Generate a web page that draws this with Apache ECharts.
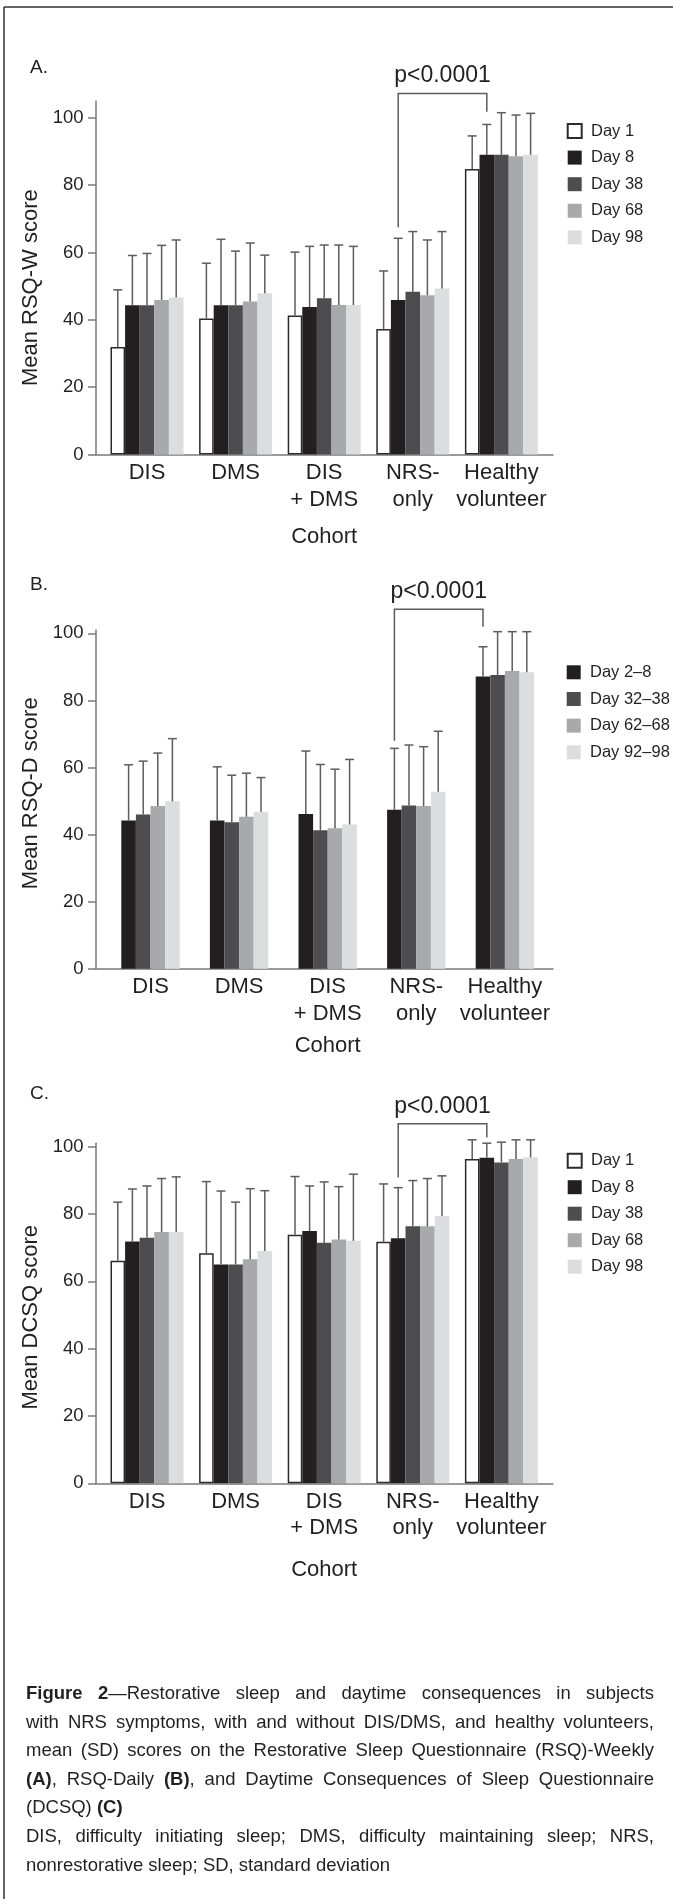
<!DOCTYPE html>
<html><head><meta charset="utf-8">
<script src="https://cdn.jsdelivr.net/npm/echarts@6/dist/echarts.min.js"></script>
<style>
html,body{margin:0;padding:0;background:#fff;overflow:hidden;}
#chart{position:absolute;left:0;top:0;width:673px;height:1899px;}
#caption{position:absolute;left:26px;top:1679px;width:628px;font-family:'Liberation Sans',Arial,Helvetica,sans-serif;font-size:18.5px;line-height:28.6px;color:#231f20;}
#caption .j{text-align:justify;text-align-last:justify;}
</style></head><body>
<div id="chart"></div>
<div id="caption">
<div class="j"><b>Figure 2</b>—Restorative sleep and daytime consequences in subjects</div>
<div class="j">with NRS symptoms, with and without DIS/DMS, and healthy volunteers,</div>
<div class="j">mean (SD) scores on the Restorative Sleep Questionnaire (RSQ)-Weekly</div>
<div class="j"><b>(A)</b>, RSQ-Daily <b>(B)</b>, and Daytime Consequences of Sleep Questionnaire</div>
<div>(DCSQ) <b>(C)</b></div>
<div class="j">DIS, difficulty initiating sleep; DMS, difficulty maintaining sleep; NRS,</div>
<div>nonrestorative sleep; SD, standard deviation</div>
</div>
<script>
// ---------- data ----------
const categories = ['DIS', 'DMS', 'DIS\n+ DMS', 'NRS-\nonly', 'Healthy\nvolunteer'];
const yTickValues = [0, 20, 40, 60, 80, 100];

// Panel A: RSQ-Weekly
const seriesNamesA = ['Day 1', 'Day 8', 'Day 38', 'Day 68', 'Day 98'];
const rsqwDay1Mean  = [31.9, 40.4, 41.3, 37.3, 84.8];
const rsqwDay8Mean  = [44.3, 44.3, 43.8, 45.9, 89.0];
const rsqwDay38Mean = [44.3, 44.3, 46.4, 48.3, 89.0];
const rsqwDay68Mean = [45.9, 45.4, 44.4, 47.3, 88.6];
const rsqwDay98Mean = [46.6, 47.9, 44.4, 49.3, 89.0];
const rsqwDay1SD  = [17.0, 16.4, 18.8, 17.2, 9.8];
const rsqwDay8SD  = [14.8, 19.6, 18.0, 18.3, 9.0];
const rsqwDay38SD = [15.4, 16.1, 15.8, 17.9, 12.5];
const rsqwDay68SD = [16.2, 17.4, 17.8, 16.4, 12.2];
const rsqwDay98SD = [17.1, 11.3, 17.4, 16.9, 12.3];

// Panel B: RSQ-Daily
const seriesNamesB = ['Day 2\u20138', 'Day 32\u201338', 'Day 62\u201368', 'Day 92\u201398'];
const rsqdDay2to8Mean   = [44.2, 44.2, 46.1, 47.4, 87.1];
const rsqdDay32to38Mean = [46.0, 43.7, 41.3, 48.7, 87.6];
const rsqdDay62to68Mean = [48.5, 45.3, 41.9, 48.5, 88.8];
const rsqdDay92to98Mean = [49.9, 46.8, 43.0, 52.8, 88.4];
const rsqdDay2to8SD   = [16.6, 16.0, 18.8, 18.3, 8.9];
const rsqdDay32to38SD = [15.9, 14.0, 19.6, 18.0, 12.9];
const rsqdDay62to68SD = [15.8, 13.0, 17.6, 17.7, 11.7];
const rsqdDay92to98SD = [18.7, 10.2, 19.4, 18.0, 12.1];

// Panel C: DCSQ
const seriesNamesC = ['Day 1', 'Day 8', 'Day 38', 'Day 68', 'Day 98'];
const dcsqDay1Mean  = [66.1, 68.3, 73.8, 71.7, 96.3];
const dcsqDay8Mean  = [71.8, 65.0, 74.9, 72.8, 96.7];
const dcsqDay38Mean = [72.9, 65.0, 71.4, 76.3, 95.3];
const dcsqDay68Mean = [74.6, 66.5, 72.4, 76.3, 96.3];
const dcsqDay98Mean = [74.6, 69.0, 72.0, 79.4, 96.8];
const dcsqDay1SD  = [17.4, 21.3, 17.3, 17.2, 5.7];
const dcsqDay8SD  = [15.6, 21.8, 13.4, 15.0, 4.3];
const dcsqDay38SD = [15.4, 18.5, 18.1, 13.6, 6.0];
const dcsqDay68SD = [15.9, 21.0, 15.7, 14.2, 5.7];
const dcsqDay98SD = [16.4, 17.9, 19.8, 11.9, 5.2];

// significance brackets: [left bottom, top, right bottom] (score units)
const pLabel = 'p<0.0001';
const bracketA = [67.5, 107.2, 101.8];
const bracketB = [68.0, 107.2, 102.0];
const bracketC = [90.8, 106.8, 102.7];

// ---------- styling ----------
const FONT = "'Liberation Sans', Arial, Helvetica, sans-serif";
const TXT = '#231f20';
const AX = '#7a7a7a';
const ERR = '#5c5c5c';
const BW = 14.6;
const fiveFills = ['#ffffff', '#231f20', '#4d4d4f', '#a7a9ab', '#dcdddf'];
const fourFills = ['#231f20', '#4d4d4f', '#a7a9ab', '#dcdddf'];

const panels = [
  { names: seriesNamesA, colors: fiveFills,
    means: [rsqwDay1Mean, rsqwDay8Mean, rsqwDay38Mean, rsqwDay68Mean, rsqwDay98Mean],
    sds: [rsqwDay1SD, rsqwDay8SD, rsqwDay38SD, rsqwDay68SD, rsqwDay98SD],
    yName: 'Mean RSQ-W score', yNamePad: [0, 20, 0, 0], yMax: 105, top: 100.9, height: 353.6, barsLeft: 102.7,
    cohortGap: 71, label: 'A.', labelY: 68.3, bracket: bracketA, bracketSeries: 1,
    legendTop: 122.5, legendGap: 9.6 },
  { names: seriesNamesB, colors: fourFills,
    means: [rsqdDay2to8Mean, rsqdDay32to38Mean, rsqdDay62to68Mean, rsqdDay92to98Mean],
    sds: [rsqdDay2to8SD, rsqdDay32to38SD, rsqdDay62to68SD, rsqdDay92to98SD],
    yName: 'Mean RSQ-D score', yNamePad: [0, 0, 0, 12], yMax: 101, top: 630, height: 338.7, barsLeft: 106.2,
    cohortGap: 66, label: 'B.', labelY: 585, bracket: bracketB, bracketSeries: 0,
    legendTop: 663.8, legendGap: 9.67 },
  { names: seriesNamesC, colors: fiveFills,
    means: [dcsqDay1Mean, dcsqDay8Mean, dcsqDay38Mean, dcsqDay68Mean, dcsqDay98Mean],
    sds: [dcsqDay1SD, dcsqDay8SD, dcsqDay38SD, dcsqDay68SD, dcsqDay98SD],
    yName: 'Mean DCSQ score', yNamePad: [0, 8, 0, 0], yMax: 101, top: 1143.2, height: 340.1, barsLeft: 102.7,
    cohortGap: 75.7, label: 'C.', labelY: 1094, bracket: bracketC, bracketSeries: 1,
    legendTop: 1152.2, legendGap: 9.5 }
];

function errRender(offset) {
  return function (params, api) {
    const base = api.coord([api.value(0), api.value(1)]);
    const top = api.coord([api.value(0), api.value(2)]);
    const x = base[0] + offset;
    return { type: 'group', children: [
      { type: 'line', shape: { x1: x, y1: base[1], x2: x, y2: top[1] }, style: { stroke: ERR, lineWidth: 1.5 } },
      { type: 'line', shape: { x1: x - 4.5, y1: top[1], x2: x + 4.5, y2: top[1] }, style: { stroke: ERR, lineWidth: 1.5 } }
    ] };
  };
}
function bracketRender(offset) {
  return function (params, api) {
    const l = api.coord([api.value(0), api.value(1)]);
    const t = api.coord([api.value(0), api.value(2)]);
    const r = api.coord([api.value(3), api.value(4)]);
    const x1 = l[0] + offset, x2 = r[0] + offset;
    return { type: 'group', children: [
      { type: 'polyline', shape: { points: [[x1, l[1]], [x1, t[1]], [x2, t[1]], [x2, r[1]]] },
        style: { stroke: ERR, lineWidth: 1.5, fill: null } },
      { type: 'text', style: { text: pLabel, x: (x1 + x2) / 2, y: t[1] - 17.5, align: 'center',
        verticalAlign: 'middle', fontSize: 23, fontFamily: FONT, fill: TXT } }
    ] };
  };
}

const option = { animation: false, grid: [], xAxis: [], yAxis: [], series: [], legend: [], graphic: [] };

option.graphic.push({ type: 'line', shape: { x1: 4, y1: 7, x2: 673, y2: 7 }, style: { stroke: '#333', lineWidth: 1.5 } });
option.graphic.push({ type: 'line', shape: { x1: 4, y1: 7, x2: 4, y2: 1899 }, style: { stroke: '#333', lineWidth: 1.5 } });

panels.forEach(function (p) {
  const g = option.grid.length;
  option.grid.push({ left: 96, width: 457, top: p.top, height: p.height });
  option.grid.push({ left: p.barsLeft, width: 443, top: p.top, height: p.height });
  option.xAxis.push({ gridIndex: g, type: 'value', min: 0, max: 1,
    axisLine: { show: true, lineStyle: { color: AX, width: 1.5 } },
    axisTick: { show: false }, axisLabel: { show: false }, splitLine: { show: false } });
  option.xAxis.push({ gridIndex: g + 1, type: 'category', data: categories,
    axisLine: { show: false }, axisTick: { show: false },
    axisLabel: { interval: 0, fontSize: 22, lineHeight: 26.5, margin: 5.25, color: TXT, fontFamily: FONT },
    name: 'Cohort', nameLocation: 'middle', nameGap: p.cohortGap,
    nameTextStyle: { fontSize: 22, color: TXT, fontFamily: FONT } });
  option.yAxis.push({ gridIndex: g, type: 'value', min: 0, max: p.yMax,
    axisLine: { show: true, lineStyle: { color: AX, width: 1.5 } },
    axisTick: { show: true, length: 8, customValues: yTickValues, lineStyle: { color: AX, width: 1.5 } },
    axisLabel: { customValues: yTickValues, fontSize: 18.5, margin: 12.5, color: TXT, fontFamily: FONT },
    splitLine: { show: false },
    name: p.yName, nameLocation: 'middle', nameGap: 47.5,
    nameTextStyle: { fontSize: 22, color: TXT, fontFamily: FONT, padding: p.yNamePad } });
  option.yAxis.push({ gridIndex: g + 1, type: 'value', min: 0, max: p.yMax, show: false });

  const n = p.names.length;
  p.names.forEach(function (nm, i) {
    const white = p.colors[i] === '#ffffff';
    option.series.push({ type: 'bar', name: nm, xAxisIndex: g + 1, yAxisIndex: g + 1,
      data: p.means[i], barWidth: BW, barGap: '0%',
      itemStyle: { color: p.colors[i], borderColor: white ? '#2b2b2b' : p.colors[i], borderWidth: white ? 1.5 : 0 } });
  });
  p.names.forEach(function (nm, i) {
    const off = (i - (n - 1) / 2) * BW;
    option.series.push({ type: 'custom', name: nm + ' SD', xAxisIndex: g + 1, yAxisIndex: g + 1,
      clip: false, silent: true, z: 5, renderItem: errRender(off),
      encode: { x: 0, y: [1, 2] },
      data: categories.map(function (c, j) { return [j, p.means[i][j], p.means[i][j] + p.sds[i][j]]; }) });
  });
  const bOff = (p.bracketSeries - (n - 1) / 2) * BW;
  option.series.push({ type: 'custom', name: 'bracket', xAxisIndex: g + 1, yAxisIndex: g + 1,
    clip: false, silent: true, z: 5, renderItem: bracketRender(bOff),
    encode: { x: [0, 3], y: [1, 2, 4] },
    data: [[3, p.bracket[0], p.bracket[1], 4, p.bracket[2]]] });

  option.legend.push({ data: p.names, orient: 'vertical', left: 566.7, top: p.legendTop,
    itemWidth: 14, itemHeight: 14, itemGap: p.legendGap, icon: 'rect', padding: 0, selectedMode: false,
    textStyle: { fontSize: 16.5, lineHeight: 17, color: TXT, fontFamily: FONT, padding: [0, 0, 0, 4.3] } });

  option.graphic.push({ type: 'text', left: 30, top: p.labelY - 10,
    style: { text: p.label, fontSize: 19, fontFamily: FONT, fill: TXT } });
});

const chart = echarts.init(document.getElementById('chart'), null, { renderer: 'canvas' });
chart.setOption(option);
</script></body></html>
